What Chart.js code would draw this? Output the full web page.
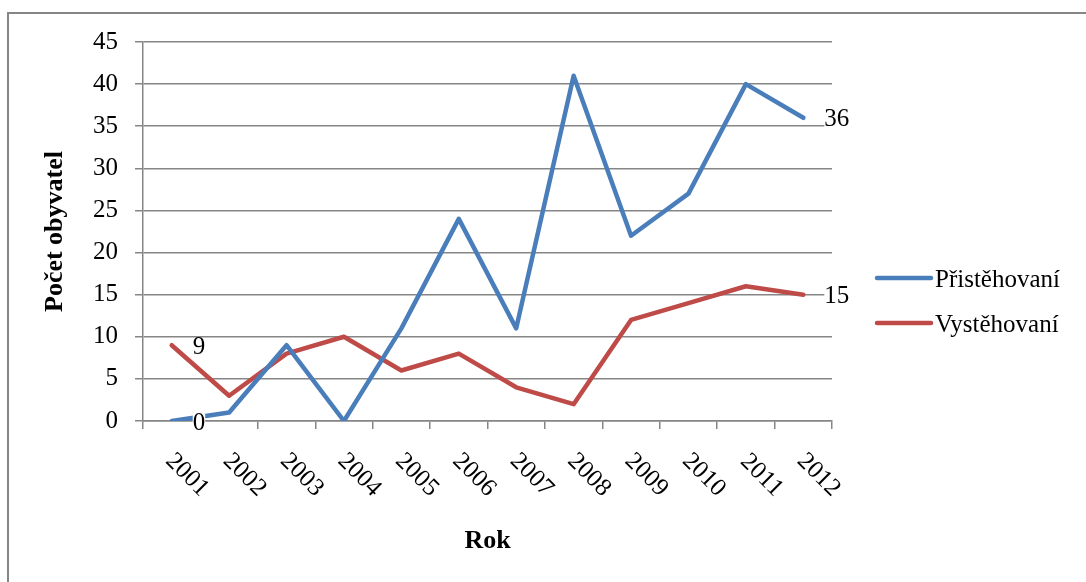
<!DOCTYPE html>
<html lang="cs">
<head>
<meta charset="utf-8">
<title>Přistěhovaní a vystěhovaní</title>
<script src="https://cdn.jsdelivr.net/npm/chart.js@4.4.1/dist/chart.umd.min.js"></script>
<style>
    html, body { margin: 0; padding: 0; background: #fff; }
    #wrap { position: relative; width: 1086px; height: 582px; overflow: hidden; }
    #graf { position: absolute; left: 0; top: 0; }
    #ramecek {
        position: absolute; left: 7px; top: 12px; right: -10px; bottom: -10px;
        border-top: 2px solid #868686; border-left: 2px solid #868686;
        pointer-events: none;
    }
</style>
</head>
<body>
<div id="wrap">
    <canvas id="graf" width="1086" height="582"></canvas>
    <div id="ramecek"></div>
</div>
<script>
// Data z grafu
let roky = ['2001', '2002', '2003', '2004', '2005', '2006', '2007', '2008', '2009', '2010', '2011', '2012'];
let pristehovani = [0, 1, 9, 0, 11, 24, 11, 41, 22, 27, 40, 36];
let vystehovani = [9, 3, 8, 10, 6, 8, 4, 2, 12, 14, 16, 15];
let osaY = { min: 0, max: 45, krok: 5 };

const PISMO = "'Liberation Serif', 'Times New Roman', serif";
const SEDA = '#868686';

// Popisky hodnot u prvního a posledního bodu
const popiskyHodnot = {
    id: 'popiskyHodnot',
    afterDatasetsDraw(chart) {
        const ctx = chart.ctx;
        ctx.save();
        ctx.font = `25px ${PISMO}`;
        ctx.textAlign = 'left';
        ctx.textBaseline = 'middle';
        chart.data.datasets.forEach((ds, i) => {
            const meta = chart.getDatasetMeta(i);
            [0, ds.data.length - 1].forEach(idx => {
                const bod = meta.data[idx];
                const text = String(ds.data[idx]);
                const x = bod.x + 21;
                const y = bod.y + 2;
                const w = ctx.measureText(text).width;
                ctx.fillStyle = '#fff';
                ctx.fillRect(x, y - 9, w, 18);
                ctx.fillStyle = '#000';
                ctx.fillText(text, x, y);
            });
        });
        ctx.restore();
    }
};

// Legenda vpravo
const legenda = {
    id: 'legenda',
    afterDraw(chart, args, opts) {
        const ctx = chart.ctx;
        ctx.save();
        ctx.font = `25px ${PISMO}`;
        ctx.textBaseline = 'middle';
        ctx.textAlign = 'left';
        chart.data.datasets.forEach((ds, i) => {
            const y = opts.y[i];
            ctx.strokeStyle = ds.borderColor;
            ctx.lineWidth = 4.5;
            ctx.lineCap = 'round';
            ctx.beginPath();
            ctx.moveTo(opts.x, y);
            ctx.lineTo(opts.x + 54, y);
            ctx.stroke();
            ctx.fillStyle = '#000';
            ctx.fillText(ds.label, opts.x + 58, y + 2);
        });
        ctx.restore();
    }
};

new Chart(document.getElementById('graf'), {
    type: 'line',
    data: {
        labels: roky,
        datasets: [
            {
                label: 'Přistěhovaní',
                data: pristehovani,
                borderColor: '#4A7EBB',
                borderWidth: 4.5,
                borderCapStyle: 'round',
                borderJoinStyle: 'round',
                pointRadius: 0,
                tension: 0
            },
            {
                label: 'Vystěhovaní',
                data: vystehovani,
                borderColor: '#BE4B48',
                borderWidth: 4.5,
                borderCapStyle: 'round',
                borderJoinStyle: 'round',
                pointRadius: 0,
                tension: 0
            }
        ]
    },
    options: {
        responsive: false,
        animation: false,
        devicePixelRatio: 1,
        layout: {
            padding: { top: 42, right: 254, bottom: 0, left: 0 }
        },
        plugins: {
            legend: { display: false },
            tooltip: { enabled: false },
            legenda: { x: 877, y: [278, 323] }
        },
        scales: {
            x: {
                offset: true,
                afterFit: scale => { scale.height = 161; },
                border: { color: SEDA, width: 1.5 },
                grid: {
                    offset: true,
                    drawOnChartArea: false,
                    drawTicks: true,
                    tickLength: 8,
                    color: SEDA,
                    lineWidth: 1.5
                },
                ticks: {
                    autoSkip: false,
                    minRotation: -45,
                    maxRotation: -45,
                    labelOffset: 33,
                    padding: 53,
                    color: '#000',
                    font: { family: PISMO, size: 25 }
                },
                title: {
                    display: true,
                    text: 'Rok',
                    color: '#000',
                    font: { family: PISMO, size: 26, weight: 'bold' },
                    padding: { top: 0, bottom: 25 }
                }
            },
            y: {
                min: osaY.min,
                max: osaY.max,
                afterFit: scale => { scale.width = 143; },
                border: { color: SEDA, width: 1.5 },
                grid: {
                    color: SEDA,
                    lineWidth: 1.5,
                    tickLength: 8
                },
                ticks: {
                    stepSize: osaY.krok,
                    padding: 17,
                    color: '#000',
                    font: { family: PISMO, size: 25 }
                },
                title: {
                    display: true,
                    text: 'Počet obyvatel',
                    color: '#000',
                    font: { family: PISMO, size: 26, weight: 'bold' },
                    padding: { top: 40, bottom: 0 }
                }
            }
        }
    },
    plugins: [popiskyHodnot, legenda]
});
</script>
</body>
</html>
